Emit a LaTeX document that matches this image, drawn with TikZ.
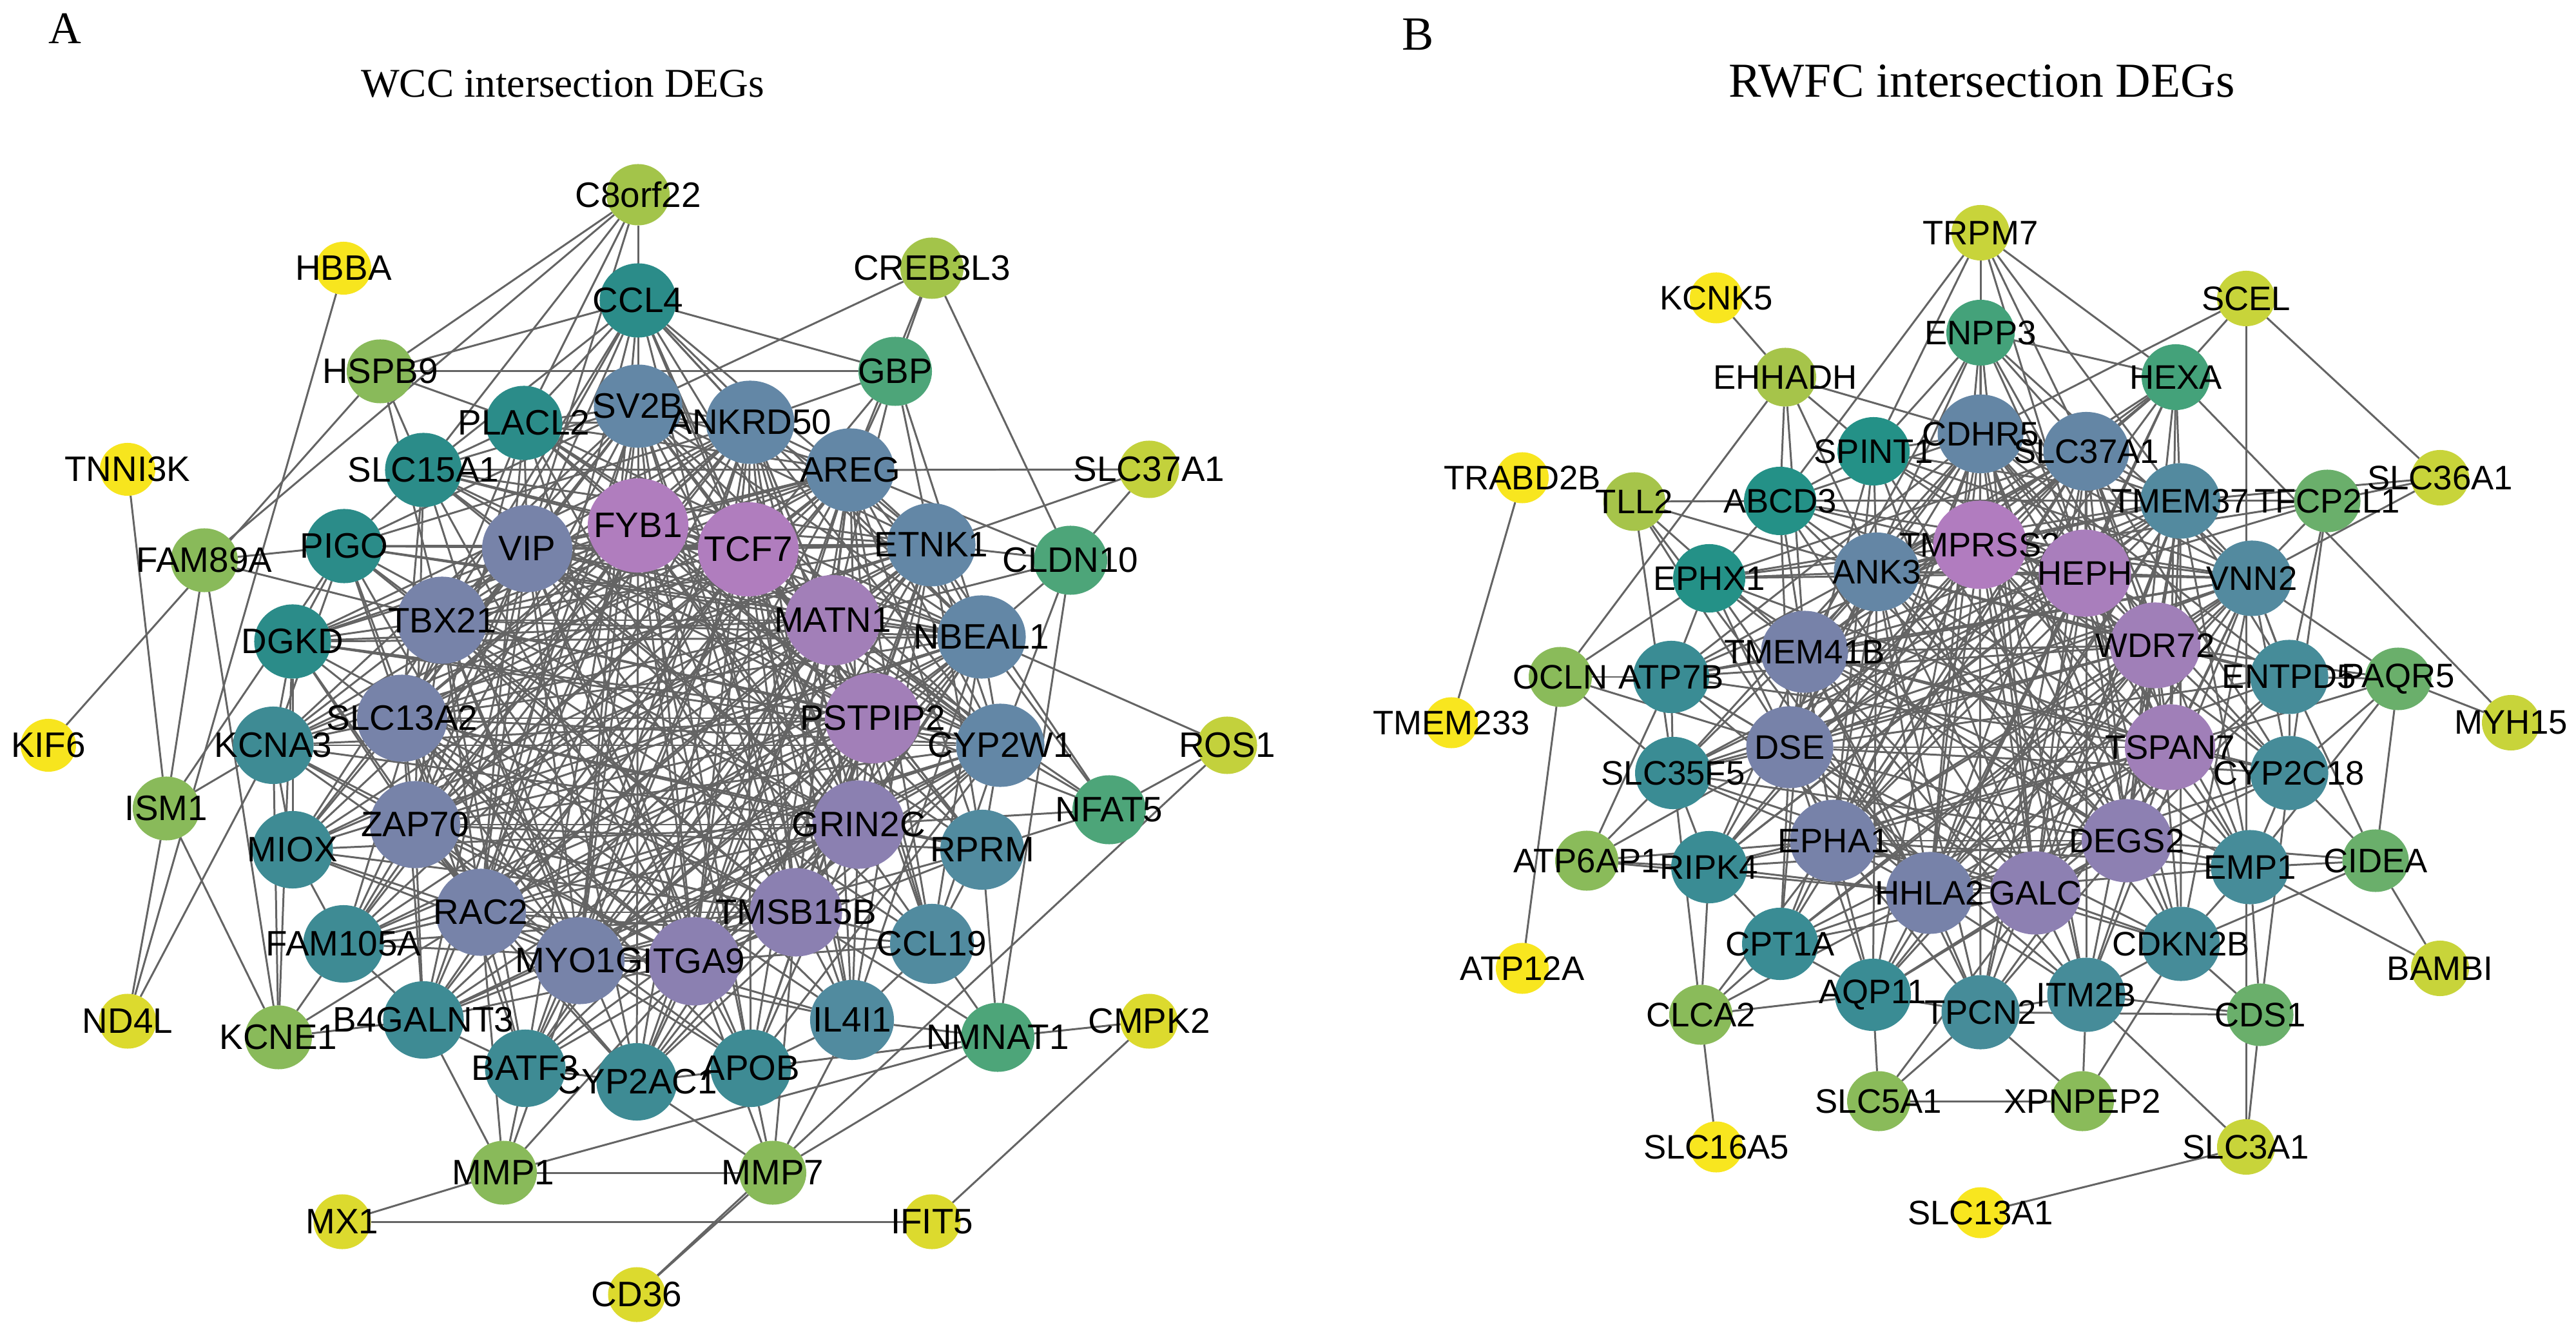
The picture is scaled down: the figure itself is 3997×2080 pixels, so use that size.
\documentclass[tikz,border=0pt]{standalone}
\usepackage{fontspec}
\setmainfont{Liberation Serif}
\setsansfont{Liberation Sans}
\usetikzlibrary{shapes.geometric}
\pgfdeclarelayer{edgelayer}
\pgfsetlayers{edgelayer,main}
% panel A colours
\definecolor{cA1}{HTML}{B07DBE}
\definecolor{cA2}{HTML}{A27FB8}
\definecolor{cA3}{HTML}{8B80B1}
\definecolor{cA4}{HTML}{7783A9}
\definecolor{cA5}{HTML}{6387A6}
\definecolor{cA6}{HTML}{518B9F}
\definecolor{cA7}{HTML}{3E8B94}
\definecolor{cA8}{HTML}{2B8C89}
\definecolor{cA9}{HTML}{4DA579}
\definecolor{cA10}{HTML}{89BA5A}
\definecolor{cA11}{HTML}{A3C44A}
\definecolor{cA12}{HTML}{C3D13C}
\definecolor{cA13}{HTML}{DCDA2E}
\definecolor{cA14}{HTML}{F7E51E}
% panel B colours
\definecolor{cB1}{HTML}{B17CBF}
\definecolor{cB2}{HTML}{A97EBC}
\definecolor{cB3}{HTML}{A07FB8}
\definecolor{cB4}{HTML}{8D80B2}
\definecolor{cB5}{HTML}{7782A9}
\definecolor{cB6}{HTML}{6486A5}
\definecolor{cB7}{HTML}{538A9F}
\definecolor{cB8}{HTML}{468C99}
\definecolor{cB9}{HTML}{3A8C94}
\definecolor{cB10}{HTML}{249187}
\definecolor{cB11}{HTML}{44A27A}
\definecolor{cB12}{HTML}{6AAF6B}
\definecolor{cB13}{HTML}{8ABB5A}
\definecolor{cB14}{HTML}{A6C44A}
\definecolor{cB15}{HTML}{C8D43A}
\definecolor{cB16}{HTML}{F8E61F}
\definecolor{edgec}{HTML}{646464}
\tikzset{
  nd/.style={ellipse, inner sep=0pt, outer sep=0pt, draw=none},
  sz/.style 2 args={minimum width=#1*0.1mm, minimum height=#2*0.1mm},
  la/.style={font=\sffamily\fontsize{15.6}{16}\selectfont, inner sep=0pt, text=black},
  lb/.style={font=\sffamily\fontsize{15}{16}\selectfont, inner sep=0pt, text=black},
  ed/.style={draw=edgec, line width=0.85pt},
  aP1/.style={fill=cA1, sz={156}{146}},
  aP2/.style={fill=cA2, sz={148}{140}},
  aP3/.style={fill=cA3, sz={143}{137}},
  aP4/.style={fill=cA4, sz={140}{135}},
  aB1/.style={fill=cA5, sz={137}{129}},
  aB2/.style={fill=cA6, sz={130}{124}},
  aT1/.style={fill=cA7, sz={125}{120}},
  aT2/.style={fill=cA8, sz={119}{115}},
  aG1/.style={fill=cA9, sz={114}{107}},
  aG2/.style={fill=cA10, sz={104}{99}},
  aG3/.style={fill=cA11, sz={98}{95}},
  aY1/.style={fill=cA12, sz={93}{89}},
  aY2/.style={fill=cA13, sz={89}{85}},
  aY3/.style={fill=cA14, sz={86}{82}},
  bP1/.style={fill=cB1, sz={145}{137}},
  bP2/.style={fill=cB2, sz={143}{135}},
  bP3/.style={fill=cB3, sz={140}{133}},
  bP4/.style={fill=cB4, sz={140}{129}},
  bL1/.style={fill=cB5, sz={135}{127}},
  bL2/.style={fill=cB6, sz={133}{122}},
  bL3/.style={fill=cB7, sz={124}{117}},
  bT1/.style={fill=cB8, sz={121}{115}},
  bT2/.style={fill=cB9, sz={118}{112}},
  bT3/.style={fill=cB10, sz={112}{106}},
  bG1/.style={fill=cB11, sz={106}{102}},
  bG2/.style={fill=cB12, sz={103}{97}},
  bG3/.style={fill=cB13, sz={98}{93}},
  bG4/.style={fill=cB14, sz={96}{91}},
  bY1/.style={fill=cB15, sz={90}{86}},
  bY2/.style={fill=cB16, sz={82}{79}},
}
\newcommand\gnA[4]{\node[nd,#1,label={[la]center:#2}] (#2) at (#3,#4) {};}
\newcommand\gnB[4]{\node[nd,#1,label={[lb]center:#2}] (#2) at (#3,#4) {};}
\begin{document}
\begin{tikzpicture}[x=0.01cm, y=-0.01cm]
\useasboundingbox (0,0) rectangle (3997,2080);
% ---------------- titles
\node[anchor=base west, inner sep=0pt, font=\fontsize{20}{20}\selectfont] (labA) at (75,68) {A};
\node[anchor=base, inner sep=0pt, font=\fontsize{18}{18}\selectfont] (titA) at (873,151) {WCC intersection DEGs};
\node[anchor=base west, inner sep=0pt, font=\fontsize{21}{21}\selectfont] (labB) at (2175,78) {B};
\node[anchor=base, inner sep=0pt, font=\fontsize{21.5}{21.5}\selectfont] (titB) at (3075,151) {RWFC intersection DEGs};
% ---------------- panel A nodes
\gnA{aP1}{FYB1}{990}{815}
\gnA{aP1}{TCF7}{1161}{852}
\gnA{aP2}{MATN1}{1292}{962}
\gnA{aP2}{PSTPIP2}{1354}{1114}
\gnA{aP3}{GRIN2C}{1332}{1279}
\gnA{aP3}{TMSB15B}{1235}{1415}
\gnA{aP4}{MYO1G}{899}{1490}
\gnA{aP3}{ITGA9}{1077}{1491}
\gnA{aP4}{RAC2}{746}{1415}
\gnA{aP4}{ZAP70}{644}{1279}
\gnA{aP4}{SLC13A2}{624}{1114}
\gnA{aP4}{TBX21}{686}{962}
\gnA{aP4}{VIP}{818}{851}
\gnA{aB1}{SV2B}{990}{630}
\gnA{aB1}{ANKRD50}{1164}{655}
\gnA{aB1}{AREG}{1319}{729}
\gnA{aB1}{ETNK1}{1445}{845}
\gnA{aB1}{NBEAL1}{1523}{988}
\gnA{aB1}{CYP2W1}{1552}{1156}
\gnA{aB2}{RPRM}{1524}{1318}
\gnA{aB2}{CCL19}{1446}{1464}
\gnA{aB2}{IL4I1}{1322}{1582}
\gnA{aT1}{KCNA3}{424}{1156}
\gnA{aT1}{MIOX}{454}{1318}
\gnA{aT1}{FAM105A}{533}{1464}
\gnA{aT1}{B4GALNT3}{657}{1582}
\gnA{aT1}{CYP2AC1}{988}{1678}
\gnA{aT1}{BATF3}{815}{1657}
\gnA{aT1}{APOB}{1165}{1657}
\gnA{aT2}{CCL4}{990}{466}
\gnA{aT2}{PLACL2}{813}{656}
\gnA{aT2}{SLC15A1}{657}{729}
\gnA{aT2}{PIGO}{534}{847}
\gnA{aT2}{DGKD}{454}{995}
\gnA{aG1}{GBP}{1389}{576}
\gnA{aG1}{CLDN10}{1661}{869}
\gnA{aG1}{NFAT5}{1721}{1256}
\gnA{aG1}{NMNAT1}{1548}{1609}
\gnA{aG2}{HSPB9}{590}{576}
\gnA{aG2}{FAM89A}{317}{869}
\gnA{aG2}{ISM1}{258}{1254}
\gnA{aG2}{KCNE1}{432}{1609}
\gnA{aG2}{MMP1}{781}{1819}
\gnA{aG2}{MMP7}{1199}{1819}
\gnA{aG3}{C8orf22}{990}{302}
\gnA{aG3}{CREB3L3}{1446}{416}
\node[nd,aY1,label={[la]center:SLC37A1}] (aSLC37A1) at (1783,728) {};
\gnA{aY1}{ROS1}{1904}{1156}
\gnA{aY2}{CMPK2}{1783}{1584}
\gnA{aY2}{ND4L}{198}{1584}
\gnA{aY2}{MX1}{531}{1895}
\gnA{aY2}{IFIT5}{1446}{1895}
\gnA{aY2}{CD36}{988}{2008}
\gnA{aY3}{HBBA}{533}{416}
\gnA{aY3}{TNNI3K}{198}{728}
\gnA{aY3}{KIF6}{75}{1156}
% ---------------- panel B nodes
\gnB{bP1}{TMPRSS2}{3072}{845}
\gnB{bP2}{HEPH}{3235}{889}
\gnB{bP3}{WDR72}{3344}{1001}
\gnB{bP3}{TSPAN7}{3367}{1159}
\gnB{bP4}{DEGS2}{3300}{1304}
\gnB{bL1}{HHLA2}{2994}{1385}
\gnB{bP4}{GALC}{3158}{1385}
\gnB{bL1}{EPHA1}{2845}{1304}
\gnB{bL1}{DSE}{2777}{1159}
\gnB{bL1}{TMEM41B}{2800}{1011}
\gnB{bL2}{ANK3}{2912}{887}
\gnB{bL2}{CDHR5}{3073}{673}
\node[nd,bL2,label={[lb]center:SLC37A1}] (bSLC37A1) at (3237,700) {};
\gnB{bL3}{TMEM37}{3383}{777}
\gnB{bL3}{VNN2}{3494}{897}
\gnB{bT1}{ENTPD5}{3552}{1050}
\gnB{bT1}{CYP2C18}{3552}{1199}
\gnB{bT1}{EMP1}{3491}{1345}
\gnB{bT1}{CDKN2B}{3384}{1464}
\gnB{bT1}{ITM2B}{3237}{1543}
\gnB{bT1}{TPCN2}{3073}{1570}
\gnB{bT2}{AQP11}{2906}{1543}
\gnB{bT2}{CPT1A}{2762}{1464}
\gnB{bT2}{RIPK4}{2652}{1345}
\gnB{bT2}{SLC35F5}{2596}{1199}
\gnB{bT2}{ATP7B}{2593}{1050}
\gnB{bT3}{EPHX1}{2652}{897}
\gnB{bT3}{ABCD3}{2762}{777}
\gnB{bT3}{SPINT1}{2907}{700}
\gnB{bG1}{ENPP3}{3073}{516}
\gnB{bG1}{HEXA}{3376}{585}
\gnB{bG2}{TFCP2L1}{3611}{777}
\gnB{bG2}{PAQR5}{3721}{1053}
\gnB{bG2}{CIDEA}{3686}{1335}
\gnB{bG2}{CDS1}{3507}{1574}
\gnB{bG3}{XPNPEP2}{3231}{1708}
\gnB{bG3}{SLC5A1}{2915}{1708}
\gnB{bG3}{CLCA2}{2639}{1574}
\gnB{bG3}{ATP6AP1}{2462}{1335}
\gnB{bG3}{OCLN}{2421}{1050}
\gnB{bG4}{TLL2}{2536}{778}
\gnB{bG4}{EHHADH}{2770}{585}
\gnB{bY1}{TRPM7}{3073}{361}
\gnB{bY1}{SCEL}{3485}{463}
\gnB{bY1}{SLC36A1}{3786}{741}
\gnB{bY1}{MYH15}{3896}{1121}
\gnB{bY1}{BAMBI}{3786}{1502}
\gnB{bY1}{SLC3A1}{3485}{1779}
\gnB{bY2}{KCNK5}{2663}{462}
\gnB{bY2}{TRABD2B}{2362}{741}
\gnB{bY2}{TMEM233}{2252}{1121}
\gnB{bY2}{ATP12A}{2362}{1502}
\gnB{bY2}{SLC16A5}{2663}{1779}
\gnB{bY2}{SLC13A1}{3073}{1881}
% ---------------- edges
\begin{pgfonlayer}{edgelayer}
% panel A: hub clique
\foreach \a [count=\i] in {FYB1,TCF7,MATN1,PSTPIP2,GRIN2C,TMSB15B,ITGA9,MYO1G,RAC2,ZAP70,SLC13A2,TBX21,VIP,SV2B,ANKRD50,AREG,ETNK1,NBEAL1,CYP2W1}{
  \foreach \b [count=\j] in {FYB1,TCF7,MATN1,PSTPIP2,GRIN2C,TMSB15B,ITGA9,MYO1G,RAC2,ZAP70,SLC13A2,TBX21,VIP,SV2B,ANKRD50,AREG,ETNK1,NBEAL1,CYP2W1}{
    \ifnum\j>\i \draw[ed] (\a) -- (\b);\fi}}
% panel A: ring to hubs
\foreach \r [count=\i] in {CCL4,PLACL2,SLC15A1,PIGO,DGKD,KCNA3,MIOX,FAM105A,B4GALNT3,BATF3,CYP2AC1,APOB,IL4I1,CCL19,RPRM}{
  \foreach \h [count=\j] in {FYB1,TCF7,MATN1,PSTPIP2,GRIN2C,TMSB15B,ITGA9,MYO1G,RAC2,ZAP70,SLC13A2,TBX21,VIP,SV2B,ANKRD50,AREG,ETNK1,NBEAL1,CYP2W1}{
    \pgfmathtruncatemacro\k{mod(\i+2*\j,3)}
    \ifnum\k>0 \draw[ed] (\r) -- (\h);\fi}}
% panel A: explicit edges
\foreach \a/\b in {C8orf22/HSPB9, C8orf22/FAM89A, C8orf22/PLACL2, C8orf22/SLC15A1, C8orf22/VIP, C8orf22/SV2B,
  HBBA/ND4L, TNNI3K/ISM1, KIF6/HSPB9,
  HSPB9/GBP, HSPB9/CCL4, HSPB9/SLC15A1, HSPB9/TBX21, HSPB9/PLACL2,
  FAM89A/PIGO, FAM89A/TBX21, FAM89A/ISM1, FAM89A/KCNE1,
  CCL4/GBP, CCL4/PLACL2, CCL4/SLC15A1, CCL4/SV2B, CCL4/VIP, CCL4/FYB1, CCL4/ANKRD50, CCL4/TCF7,
  CREB3L3/SV2B, CREB3L3/GBP, CREB3L3/AREG, CREB3L3/CLDN10,
  GBP/ANKRD50, GBP/AREG, GBP/ETNK1, GBP/MATN1, GBP/NBEAL1, GBP/TCF7,
  aSLC37A1/AREG, aSLC37A1/ETNK1, aSLC37A1/CLDN10,
  CLDN10/AREG, CLDN10/ETNK1, CLDN10/NBEAL1, CLDN10/MATN1, CLDN10/NMNAT1, CLDN10/CYP2W1,
  ROS1/NFAT5, ROS1/NBEAL1, ROS1/CD36,
  NFAT5/CYP2W1, NFAT5/RPRM, NFAT5/NBEAL1, NFAT5/PSTPIP2, NFAT5/GRIN2C, NFAT5/ETNK1, NFAT5/MATN1,
  NMNAT1/CCL19, NMNAT1/RPRM, NMNAT1/APOB, NMNAT1/CMPK2, NMNAT1/MMP7, NMNAT1/MMP1, NMNAT1/IL4I1, NMNAT1/TMSB15B,
  CMPK2/IFIT5, IFIT5/MX1, MX1/MMP1,
  MMP1/MMP7, MMP1/BATF3, MMP1/B4GALNT3, MMP1/RAC2, MMP1/MYO1G, MMP1/ITGA9,
  MMP7/APOB, MMP7/ITGA9, MMP7/TMSB15B, MMP7/IL4I1, MMP7/CYP2AC1, MMP7/CD36,
  ISM1/KCNE1, ISM1/ND4L, ISM1/KCNA3, ISM1/PIGO, ND4L/KCNA3,
  KCNE1/FAM105A, KCNE1/B4GALNT3, KCNE1/RAC2, KCNE1/KCNA3, KCNE1/DGKD,
  PLACL2/SLC15A1, SLC15A1/PIGO, PIGO/DGKD, DGKD/KCNA3, KCNA3/MIOX, MIOX/FAM105A,
  FAM105A/B4GALNT3, B4GALNT3/BATF3, BATF3/CYP2AC1, CYP2AC1/APOB, APOB/IL4I1,
  IL4I1/CCL19, CCL19/RPRM, PLACL2/SV2B, PIGO/KCNA3, DGKD/MIOX, FAM105A/RAC2}
  \draw[ed] (\a) -- (\b);
% panel B: hub clique
\foreach \a [count=\i] in {TMPRSS2,HEPH,WDR72,TSPAN7,DEGS2,GALC,HHLA2,EPHA1,DSE,TMEM41B,ANK3,CDHR5,bSLC37A1,TMEM37,VNN2}{
  \foreach \b [count=\j] in {TMPRSS2,HEPH,WDR72,TSPAN7,DEGS2,GALC,HHLA2,EPHA1,DSE,TMEM41B,ANK3,CDHR5,bSLC37A1,TMEM37,VNN2}{
    \ifnum\j>\i \draw[ed] (\a) -- (\b);\fi}}
% panel B: ring to hubs
\foreach \r [count=\i] in {SPINT1,ENPP3,HEXA,ENTPD5,CYP2C18,EMP1,CDKN2B,ITM2B,TPCN2,AQP11,CPT1A,RIPK4,SLC35F5,ATP7B,EPHX1,ABCD3}{
  \foreach \h [count=\j] in {TMPRSS2,HEPH,WDR72,TSPAN7,DEGS2,GALC,HHLA2,EPHA1,DSE,TMEM41B,ANK3,CDHR5,bSLC37A1,TMEM37,VNN2}{
    \pgfmathtruncatemacro\k{mod(\i+2*\j,3)}
    \ifnum\k>0 \draw[ed] (\r) -- (\h);\fi}}
% panel B: explicit edges
\foreach \a/\b in {KCNK5/EHHADH,
  EHHADH/ABCD3, EHHADH/ANK3, EHHADH/SPINT1, EHHADH/OCLN, EHHADH/TMEM41B, EHHADH/CDHR5,
  TRPM7/SPINT1, TRPM7/ABCD3, TRPM7/bSLC37A1, TRPM7/TMEM37, TRPM7/HEXA, TRPM7/HEPH, TRPM7/ENPP3,
  SCEL/HEXA, SCEL/CDHR5, SCEL/SLC36A1, SCEL/SLC3A1,
  SLC36A1/TFCP2L1, SLC36A1/VNN2, SLC36A1/TMEM37, HEXA/MYH15,
  TRABD2B/TMEM233,
  TLL2/ABCD3, TLL2/ANK3, TLL2/TMEM41B, TLL2/DSE, TLL2/SLC35F5, TLL2/HHLA2,
  OCLN/ATP12A, OCLN/EPHX1, OCLN/ATP7B, OCLN/SLC35F5, OCLN/DSE,
  ATP6AP1/SLC35F5, ATP6AP1/RIPK4, ATP6AP1/ATP7B, ATP6AP1/DSE, ATP6AP1/EPHA1, ATP6AP1/HHLA2,
  CLCA2/SLC16A5, CLCA2/RIPK4, CLCA2/CPT1A, CLCA2/EPHA1, CLCA2/HHLA2, CLCA2/AQP11, CLCA2/SLC35F5,
  SLC5A1/AQP11, SLC5A1/XPNPEP2, SLC5A1/TPCN2, SLC5A1/GALC,
  XPNPEP2/ITM2B, XPNPEP2/TPCN2, XPNPEP2/CDKN2B,
  SLC3A1/SLC13A1, SLC3A1/ITM2B, SLC3A1/CDS1,
  CDS1/ITM2B, CDS1/CDKN2B, CDS1/EMP1, CDS1/CYP2C18, CDS1/TPCN2,
  CIDEA/EMP1, CIDEA/CYP2C18, CIDEA/PAQR5, CIDEA/BAMBI, CIDEA/ENTPD5, CIDEA/CDKN2B, CIDEA/DEGS2,
  BAMBI/EMP1, MYH15/PAQR5,
  PAQR5/ENTPD5, PAQR5/CYP2C18, PAQR5/EMP1, PAQR5/TSPAN7, PAQR5/WDR72, PAQR5/VNN2,
  TFCP2L1/TMEM37, TFCP2L1/VNN2, TFCP2L1/ANK3, TFCP2L1/ENTPD5, TFCP2L1/CYP2C18, TFCP2L1/HEPH,
  SPINT1/ABCD3, ABCD3/EPHX1, EPHX1/ATP7B, ATP7B/SLC35F5, SLC35F5/RIPK4, RIPK4/CPT1A,
  CPT1A/AQP11, AQP11/TPCN2, TPCN2/ITM2B, ITM2B/CDKN2B, CDKN2B/EMP1, EMP1/CYP2C18,
  CYP2C18/ENTPD5, ENTPD5/VNN2, ENPP3/SPINT1, ENPP3/HEXA, ENPP3/CDHR5, HEXA/bSLC37A1}
  \draw[ed] (\a) -- (\b);
\end{pgfonlayer}
\end{tikzpicture}
\end{document}
